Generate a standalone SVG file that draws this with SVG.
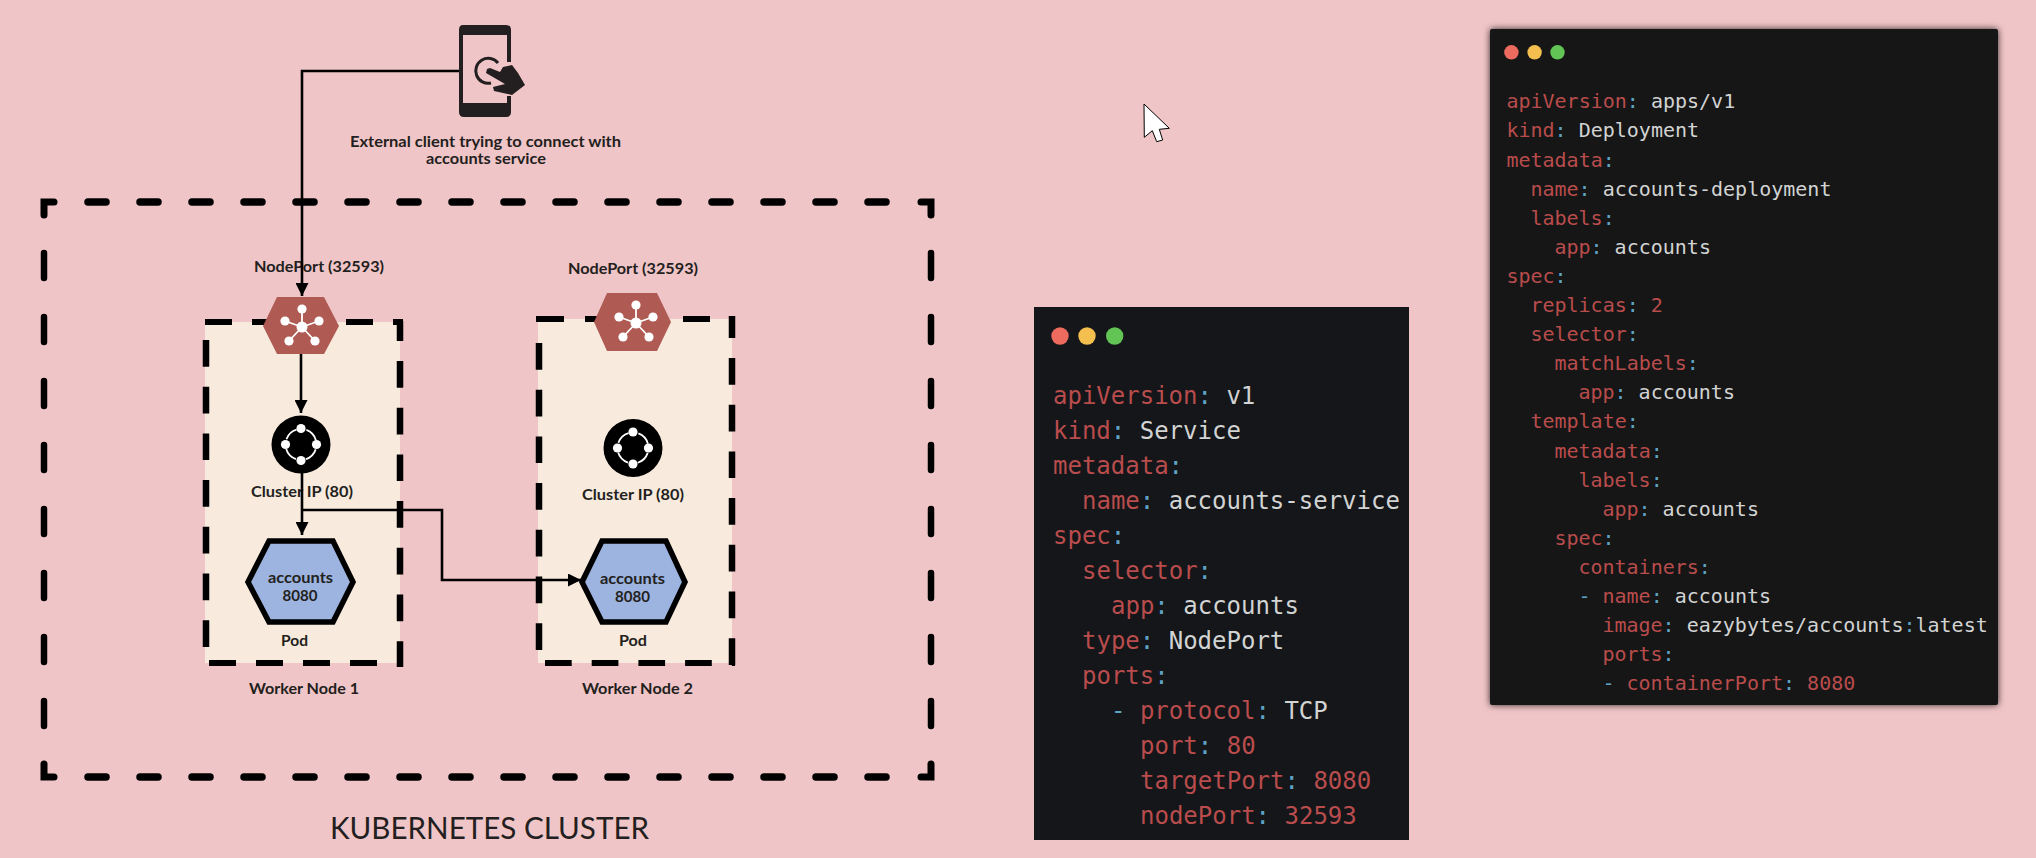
<svg xmlns="http://www.w3.org/2000/svg" width="2036" height="858" viewBox="0 0 2036 858">
<style>
text{font-family:"Lato","Liberation Sans",sans-serif;fill:#231f20}
.b{font-weight:700;font-size:16px}
.dh{stroke:#000;stroke-width:6;fill:none}
.dv{stroke:#000;stroke-width:6.5;fill:none}
.oh{stroke:#000;stroke-width:7.5;fill:none;stroke-linecap:round;stroke-dasharray:18 34}
.ov{stroke:#000;stroke-width:6.5;fill:none;stroke-linecap:round;stroke-dasharray:25 39}
.oc{stroke:#000;stroke-width:7;fill:none;stroke-linecap:round}
.cream{fill:#f8eadd}
.np{fill:#af5a52}
.w{fill:#fff}
.wl{stroke:#fff;stroke-width:1.8;fill:none}
.pod{fill:#9cb4df;stroke:#000;stroke-width:5.5}
.conn{stroke:#000;stroke-width:2.6;fill:none}
.code text{font-family:"DejaVu Sans Mono","Liberation Mono",monospace}
.code1 text{font-size:24px}
.code2 text{font-size:20px}
.k{fill:#b94c4c}
.c{fill:#5fa3c7}
.v{fill:#d2d3d3}
.win{fill:#141619}
</style>
<defs>
<marker id="ah" markerUnits="userSpaceOnUse" markerWidth="14" markerHeight="13" refX="13" refY="6.5" orient="auto">
<path d="M0 0L13 6.5L0 13Z" fill="#000"/>
</marker>
<filter id="sh" x="-5%" y="-5%" width="110%" height="110%">
<feDropShadow dx="0" dy="0" stdDeviation="3.500" flood-color="#000" flood-opacity="0.8"/>
</filter>
<g id="npi">
<path class="wl" d="M0 0L0-18M0 0L-17-6M0 0L17-6M0 0L-13 14M0 0L13 14"/>
<circle class="w" cx="0" cy="0" r="5.500"/>
<circle class="w" cx="0" cy="-18" r="4.600"/>
<circle class="w" cx="-17" cy="-6" r="4.600"/>
<circle class="w" cx="17" cy="-6" r="4.600"/>
<circle class="w" cx="-13" cy="14" r="4.600"/>
<circle class="w" cx="13" cy="14" r="4.600"/>
</g>
<g id="cip">
<ellipse cx="0" cy="0" rx="29.500" ry="29" fill="#000"/>
<circle class="wl" cx="0" cy="0" r="15.500" stroke-dasharray="14.350 10" stroke-dashoffset="-5"/>
<circle class="w" cx="0" cy="-16" r="4.600"/>
<circle class="w" cx="-15.500" cy="0" r="4.600"/>
<circle class="w" cx="15.500" cy="0" r="4.600"/>
<circle class="w" cx="0" cy="16" r="4.600"/>
</g>
</defs>
<rect width="2036" height="858" fill="#f0c5c7"/>

<g id="cluster">
<path class="oh" d="M88 202H892"/>
<path class="oh" d="M88 777H892"/>
<path class="ov" d="M44 253V730"/>
<path class="ov" d="M931 253V730"/>
<path class="oc" d="M44 215V202H54"/>
<path class="oc" d="M921 202H931V215"/>
<path class="oc" d="M44 764V777H54"/>
<path class="oc" d="M931 764V777H921"/>
<text x="330" y="839" font-size="30" textLength="319" lengthAdjust="spacingAndGlyphs">KUBERNETES CLUSTER</text>
</g>

<g id="worker-node-1">
<rect class="cream" x="205" y="322" width="195" height="341"/>
<path class="dh" d="M205 322H403" stroke-dasharray="27 20"/>
<path class="dh" d="M209 663H403" stroke-dasharray="27 20"/>
<path class="dv" d="M400 321V667" stroke-dasharray="20 20 26.700 20 26.700 20 26.700 20 26.700 20 26.700 20 26.700 20 26.700 20"/>
<path class="dv" d="M206 340V647" stroke-dasharray="26.700 20"/>
<text class="b" x="249" y="694" textLength="110" lengthAdjust="spacingAndGlyphs">Worker Node 1</text>
</g>

<g id="worker-node-2">
<rect class="cream" x="538" y="319" width="194" height="344"/>
<path class="dh" d="M536 319H735" stroke-dasharray="28 21 28 21 28 21 27 21 28"/>
<path class="dh" d="M545 663H735" stroke-dasharray="26.700 20"/>
<path class="dv" d="M732 316V665" stroke-dasharray="22 20 26.700 20 26.700 20 26.700 20 26.700 20 26.700 20 26.700 20 26.700 20"/>
<path class="dv" d="M539 343V650" stroke-dasharray="26.700 20"/>
<text class="b" x="582" y="694" textLength="111" lengthAdjust="spacingAndGlyphs">Worker Node 2</text>
</g>

<g id="nodeport-1">
<path class="np" d="M263 326L277 297H324L339 326L324 354H277Z"/>
<use href="#npi" x="302" y="327"/>
<text class="b" x="254" y="272" textLength="130" lengthAdjust="spacingAndGlyphs">NodePort (32593)</text>
</g>

<g id="nodeport-2">
<path class="np" d="M594 322L607 293H657L671 322L657 351H607Z"/>
<use href="#npi" x="636" y="323"/>
<text class="b" x="568" y="274" textLength="130" lengthAdjust="spacingAndGlyphs">NodePort (32593)</text>
</g>

<g id="clusterip-1">
<use href="#cip" x="301" y="444.500"/>
<text class="b" x="251" y="497" textLength="102" lengthAdjust="spacingAndGlyphs">Cluster IP (80)</text>
</g>

<g id="clusterip-2">
<use href="#cip" x="633" y="448"/>
<text class="b" x="582" y="500" textLength="102" lengthAdjust="spacingAndGlyphs">Cluster IP (80)</text>
</g>

<g id="pod-1">
<path class="pod" d="M248 582L269 541H333L353 582L333 622H269Z"/>
<text class="b" x="268" y="583" textLength="65" lengthAdjust="spacingAndGlyphs">accounts</text>
<text class="b" x="282.500" y="601" textLength="35" lengthAdjust="spacingAndGlyphs">8080</text>
<text class="b" x="281" y="646" textLength="27" lengthAdjust="spacingAndGlyphs">Pod</text>
</g>

<g id="pod-2">
<path class="pod" d="M582 582L602 541H666L685 582L666 622H602Z"/>
<text class="b" x="600" y="584" textLength="65" lengthAdjust="spacingAndGlyphs">accounts</text>
<text class="b" x="615" y="602" textLength="35" lengthAdjust="spacingAndGlyphs">8080</text>
<text class="b" x="619" y="646" textLength="28" lengthAdjust="spacingAndGlyphs">Pod</text>
</g>

<g id="client">
<path fill="#231f20" fill-rule="evenodd" d="M463 25H506Q511 25 511 30V62H507V35H463V103H507V96H511V112Q511 117 506 117H464Q459 117 459 112V30Q459 25 463 25Z"/>
<path fill="none" stroke="#231f20" stroke-width="3" d="M498 63A12.500 12.500 0 1 0 491 83"/>
<path fill="#231f20" d="M487 69L490 68L500 72L503 67L512 65L518 73L525 85L512 95L494 91L493 87L505 84L486 73Z"/>
<text class="b" x="350" y="146.500" textLength="271" lengthAdjust="spacingAndGlyphs">External client trying to connect with</text>
<text class="b" x="426" y="164" textLength="120" lengthAdjust="spacingAndGlyphs">accounts service</text>
</g>

<g id="connectors">
<path class="conn" marker-end="url(#ah)" d="M459 71H302V296"/>
<path class="conn" marker-end="url(#ah)" d="M301 354V413"/>
<path class="conn" marker-end="url(#ah)" d="M302 473V535"/>
<path class="conn" marker-end="url(#ah)" d="M302 510H442V580H581"/>
</g>

<g id="service-yaml" class="code code1">
<rect class="win" x="1034" y="307" width="375" height="533"/>
<circle cx="1060" cy="336" r="8.700" fill="#ec6a5e"/>
<circle cx="1087" cy="336" r="8.700" fill="#f4bf4f"/>
<circle cx="1114.700" cy="336" r="8.700" fill="#61c454"/>
<text x="1053" y="404"><tspan class="k">apiVersion</tspan><tspan class="c">:</tspan><tspan class="v"> v1</tspan></text>
<text x="1053" y="439"><tspan class="k">kind</tspan><tspan class="c">:</tspan><tspan class="v"> Service</tspan></text>
<text x="1053" y="474"><tspan class="k">metadata</tspan><tspan class="c">:</tspan></text>
<text x="1082" y="509"><tspan class="k">name</tspan><tspan class="c">:</tspan><tspan class="v"> accounts-service</tspan></text>
<text x="1053" y="544"><tspan class="k">spec</tspan><tspan class="c">:</tspan></text>
<text x="1082" y="579"><tspan class="k">selector</tspan><tspan class="c">:</tspan></text>
<text x="1111" y="614"><tspan class="k">app</tspan><tspan class="c">:</tspan><tspan class="v"> accounts</tspan></text>
<text x="1082" y="649"><tspan class="k">type</tspan><tspan class="c">:</tspan><tspan class="v"> NodePort</tspan></text>
<text x="1082" y="684"><tspan class="k">ports</tspan><tspan class="c">:</tspan></text>
<text x="1111" y="719"><tspan class="c">- </tspan><tspan class="k">protocol</tspan><tspan class="c">:</tspan><tspan class="v"> TCP</tspan></text>
<text x="1140" y="754"><tspan class="k">port</tspan><tspan class="c">:</tspan><tspan class="k"> 80</tspan></text>
<text x="1140" y="789"><tspan class="k">targetPort</tspan><tspan class="c">:</tspan><tspan class="k"> 8080</tspan></text>
<text x="1140" y="824"><tspan class="k">nodePort</tspan><tspan class="c">:</tspan><tspan class="k"> 32593</tspan></text>
</g>

<g id="deployment-yaml" class="code code2">
<rect class="win" x="1490" y="29" width="508" height="676" rx="2" filter="url(#sh)"/>
<circle cx="1511.400" cy="52.300" r="7.200" fill="#ec6a5e"/>
<circle cx="1534.600" cy="52.300" r="7.200" fill="#f4bf4f"/>
<circle cx="1557.500" cy="52.300" r="7.200" fill="#61c454"/>
<text x="1506.400" y="108.300"><tspan class="k">apiVersion</tspan><tspan class="c">:</tspan><tspan class="v"> apps/v1</tspan></text>
<text x="1506.400" y="137.400"><tspan class="k">kind</tspan><tspan class="c">:</tspan><tspan class="v"> Deployment</tspan></text>
<text x="1506.400" y="166.500"><tspan class="k">metadata</tspan><tspan class="c">:</tspan></text>
<text x="1530.400" y="195.600"><tspan class="k">name</tspan><tspan class="c">:</tspan><tspan class="v"> accounts-deployment</tspan></text>
<text x="1530.400" y="224.700"><tspan class="k">labels</tspan><tspan class="c">:</tspan></text>
<text x="1554.400" y="253.800"><tspan class="k">app</tspan><tspan class="c">:</tspan><tspan class="v"> accounts</tspan></text>
<text x="1506.400" y="282.900"><tspan class="k">spec</tspan><tspan class="c">:</tspan></text>
<text x="1530.400" y="312"><tspan class="k">replicas</tspan><tspan class="c">:</tspan><tspan class="k"> 2</tspan></text>
<text x="1530.400" y="341.100"><tspan class="k">selector</tspan><tspan class="c">:</tspan></text>
<text x="1554.400" y="370.200"><tspan class="k">matchLabels</tspan><tspan class="c">:</tspan></text>
<text x="1578.400" y="399.300"><tspan class="k">app</tspan><tspan class="c">:</tspan><tspan class="v"> accounts</tspan></text>
<text x="1530.400" y="428.400"><tspan class="k">template</tspan><tspan class="c">:</tspan></text>
<text x="1554.400" y="457.500"><tspan class="k">metadata</tspan><tspan class="c">:</tspan></text>
<text x="1578.400" y="486.600"><tspan class="k">labels</tspan><tspan class="c">:</tspan></text>
<text x="1602.400" y="515.700"><tspan class="k">app</tspan><tspan class="c">:</tspan><tspan class="v"> accounts</tspan></text>
<text x="1554.400" y="544.800"><tspan class="k">spec</tspan><tspan class="c">:</tspan></text>
<text x="1578.400" y="573.900"><tspan class="k">containers</tspan><tspan class="c">:</tspan></text>
<text x="1578.400" y="603"><tspan class="c">- </tspan><tspan class="k">name</tspan><tspan class="c">:</tspan><tspan class="v"> accounts</tspan></text>
<text x="1602.400" y="632.100"><tspan class="k">image</tspan><tspan class="c">:</tspan><tspan class="v"> eazybytes/accounts</tspan><tspan class="c">:</tspan><tspan class="v">latest</tspan></text>
<text x="1602.400" y="661.200"><tspan class="k">ports</tspan><tspan class="c">:</tspan></text>
<text x="1602.400" y="690.300"><tspan class="c">- </tspan><tspan class="k">containerPort</tspan><tspan class="c">:</tspan><tspan class="k"> 8080</tspan></text>
</g>

<g id="cursor">
<path d="M1144 104L1169.300 128.300L1159.300 129.300L1162.700 140L1156.700 141.700L1152.300 130.700L1144.300 137.300Z" fill="#fff" stroke="#000" stroke-width="1"/>
</g>
</svg>
